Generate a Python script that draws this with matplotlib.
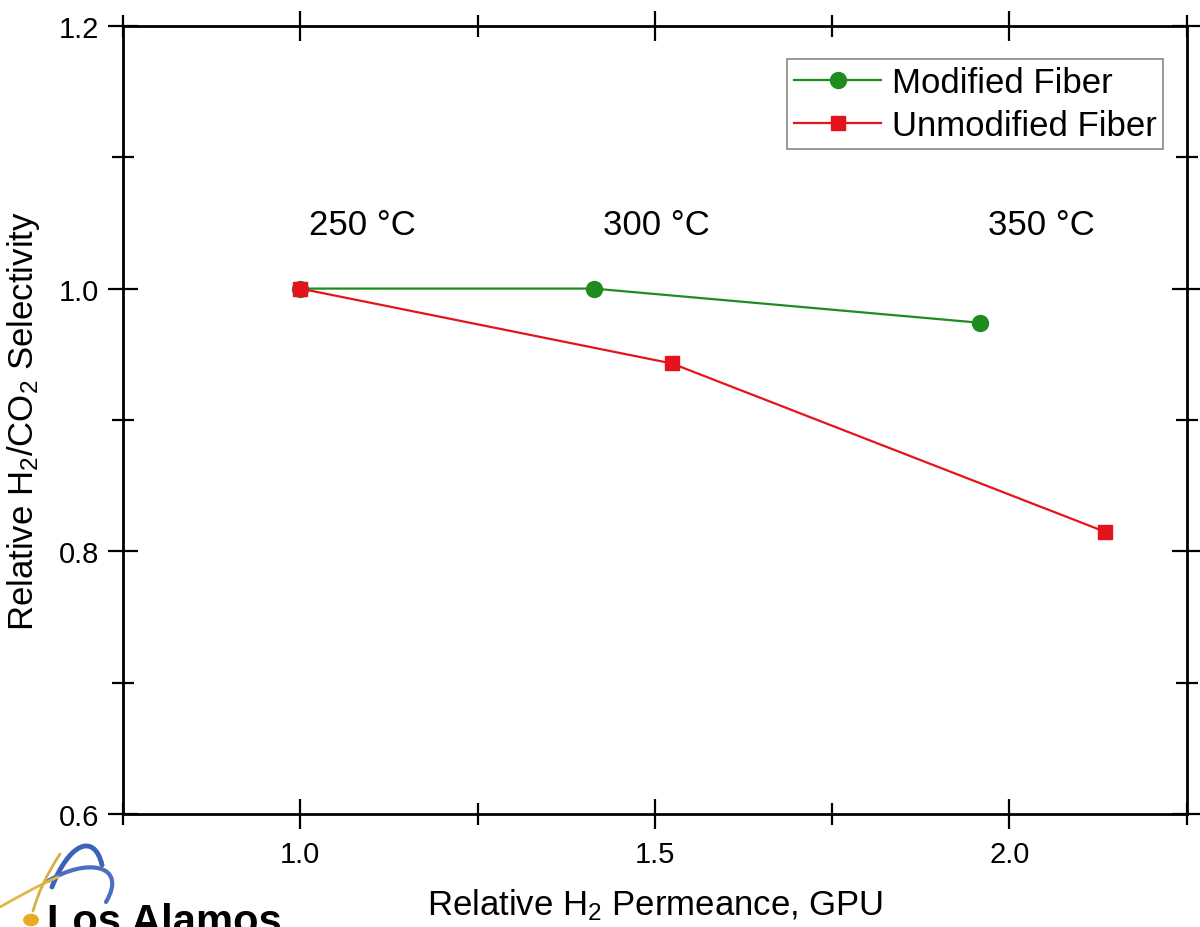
import matplotlib.pyplot as plt
from matplotlib.path import Path
from matplotlib.patches import PathPatch

plt.rcParams['font.family'] = ['Liberation Sans', 'DejaVu Sans']
plt.rcParams['mathtext.fontset'] = 'custom'
plt.rcParams['mathtext.rm'] = 'Liberation Sans'
plt.rcParams['mathtext.it'] = 'Liberation Sans:italic'

# data
mod_x = [1.0, 1.414, 1.958]
mod_y = [1.0, 1.0, 0.974]
unmod_x = [1.0, 1.524, 2.134]
unmod_y = [1.0, 0.943, 0.815]

temp_labels = ["250 °C", "300 °C", "350 °C"]
temp_x = [1.088, 1.502, 2.045]
temp_y = 1.049

fig = plt.figure(figsize=(12, 9.28), dpi=100)
ax = fig.add_axes([0.1025, 0.1218, 0.8865, 0.8492])

ax.plot(mod_x, mod_y, color="#1e8c1e", marker="o", markersize=11.5, lw=1.6,
        label="Modified Fiber", zorder=3)
ax.plot(unmod_x, unmod_y, color="#e5141c", marker="s", markersize=10, lw=1.6,
        label="Unmodified Fiber", zorder=3)

for t, x in zip(temp_labels, temp_x):
    ax.text(x, temp_y, t, ha="center", va="center", fontsize=25)

ax.set_xlim(0.75, 2.25)
ax.set_ylim(0.6, 1.2)
ax.set_xticks([1.0, 1.5, 2.0])
ax.set_xticks([0.75, 1.25, 1.75, 2.25], minor=True)
ax.set_yticks([0.6, 0.8, 1.0, 1.2])
ax.set_yticks([0.7, 0.9, 1.1], minor=True)
ax.tick_params(which="both", direction="inout", top=True, right=True,
               labelsize=21, width=1.6, pad=8)
ax.tick_params(axis="y", pad=6)
ax.tick_params(which="major", length=22)
ax.tick_params(which="minor", length=16)
for s in ax.spines.values():
    s.set_linewidth(2)

ax.set_xlabel("Relative H$_2$ Permeance, GPU", fontsize=25)
ax.set_ylabel("Relative H$_2$/CO$_2$ Selectivity", fontsize=25)
ax.xaxis.set_label_coords(0.5, -0.092)
ax.yaxis.set_label_coords(-0.076, 0.5)

leg = ax.legend(loc="upper right", fontsize=25, fancybox=False, framealpha=1,
                edgecolor="#888888", borderpad=0.2, handlelength=2.5,
                labelspacing=0.3, handletextpad=0.3, borderaxespad=0,
                bbox_to_anchor=(0.978, 0.958))
leg.get_frame().set_linewidth(1.2)

# Los Alamos logo (simplified), coordinates in pixels from top-left
def px(x, y):
    return (x / 1200, 1 - y / 928)

def curve(pts, color, lw):
    verts = [px(*p) for p in pts]
    codes = [Path.MOVETO] + [Path.CURVE4] * (len(verts) - 1)
    fig.add_artist(PathPatch(Path(verts, codes), transform=fig.transFigure,
                             facecolor="none", edgecolor=color, lw=lw,
                             capstyle="round"))

curve([(52, 888), (68, 846), (94, 832), (102, 866)], "#3d63b8", 3.5)
curve([(48, 882), (88, 858), (128, 866), (106, 903)], "#4a6fc0", 3)
curve([(0, 908), (18, 898), (35, 888), (58, 878)], "#e0b848", 2)
curve([(33, 912), (38, 895), (45, 878), (60, 855)], "#d8b040", 2)
fig.add_artist(plt.Circle(px(31, 921), 0.006, transform=fig.transFigure,
                          color="#e8aa20"))
fig.text(px(47, 0)[0], -0.007, "Los Alamos", fontsize=30, fontweight="bold",
         ha="left", va="baseline", color="black")

fig.savefig("out.png", dpi=100)
